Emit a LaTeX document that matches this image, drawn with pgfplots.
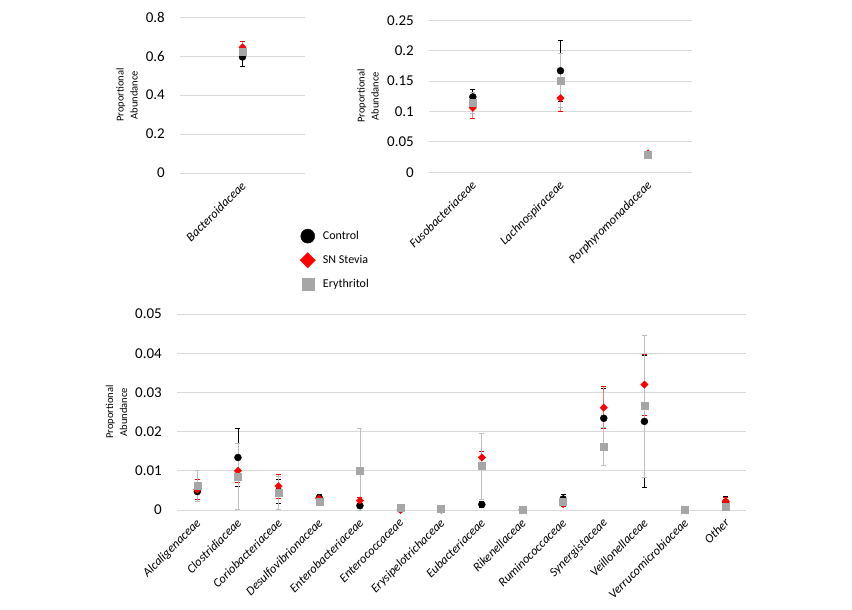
\documentclass[border=0pt]{standalone}
\usepackage{fontspec}
\setmainfont{Carlito}
\usepackage{pgfplots}
\pgfplotsset{compat=1.18}
\usepackage{pgfplotstable}

\definecolor{cred}{HTML}{FF0000}
\definecolor{cgray}{HTML}{A6A6A6}
\definecolor{ered}{HTML}{F47C7C}
\definecolor{egray}{HTML}{BFBFBF}
\definecolor{gridc}{HTML}{D9D9D9}

% ---- top-left panel ----
\pgfplotstableread{
x y ep em
0 0.595 0.050 0.050
}\tlC
\pgfplotstableread{
x y ep em
0 0.645 0.032 0.032
}\tlS
\pgfplotstableread{
x y ep em
0 0.620 0.022 0.022
}\tlE
% ---- top-right panel ----
\pgfplotstableread{
x y ep em
0 0.124 0.013 0.013
1 0.167 0.050 0.050
2 0.028 0.003 0.003
}\trC
\pgfplotstableread{
x y ep em
0 0.106 0.018 0.018
1 0.122 0.022 0.022
2 0.031 0.003 0.003
}\trS
\pgfplotstableread{
x y ep em
0 0.114 0.017 0.017
1 0.151 0.045 0.045
2 0.029 0.003 0.003
}\trE
% ---- bottom panel ----
\pgfplotstableread{
x y ep em
0 0.0047 0.0019 0.0019
1 0.0134 0.0075 0.0075
2 0.0048 0.0030 0.0030
3 0.0031 0.0008 0.0008
4 0.0011 0.0005 0.0005
5 0.0002 0.0001 0.0001
6 0.0001 0.0001 0.0001
7 0.0014 0.0008 0.0008
8 0.00005 0.00003 0.00003
9 0.0028 0.0013 0.0013
10 0.0234 0.0075 0.0075
11 0.0226 0.0168 0.0168
12 0.00003 0.00002 0.00002
13 0.0020 0.0016 0.0016
}\bC
\pgfplotstableread{
x y ep em
0 0.0052 0.0025 0.0025
1 0.0100 0.0030 0.0030
2 0.0061 0.0031 0.0031
3 0.0029 0.0005 0.0005
4 0.0024 0.0008 0.0008
5 0.0000 0.0002 0.0002
6 0.0001 0.0001 0.0001
7 0.0134 0.0016 0.0016
8 0.00003 0.00002 0.00002
9 0.0015 0.0006 0.0006
10 0.0261 0.0054 0.0054
11 0.0320 0.0078 0.0078
12 0.00003 0.00002 0.00002
13 0.0022 0.0009 0.0009
}\bS
\pgfplotstableread{
x y ep em
0 0.0061 0.0039 0.0039
1 0.0086 0.0085 0.0085
2 0.0043 0.0042 0.0042
3 0.0020 0.0005 0.0005
4 0.0100 0.0109 0.0100
5 0.0005 0.0002 0.0002
6 0.0003 0.0001 0.0001
7 0.0112 0.0083 0.0085
8 0.00005 0.00003 0.00003
9 0.0022 0.0007 0.0007
10 0.0162 0.0049 0.0049
11 0.0265 0.0181 0.0181
12 0.00003 0.00002 0.00002
13 0.0009 0.0004 0.0004
}\bE

\pgfplotsset{
  myaxis/.style={
    scale only axis,
    axis line style={draw=none},
    major tick length=0pt,
    ymajorgrids,
    major grid style={draw=gridc, line width=0.8bp},
    ymin=0,
    clip=false,
    scaled y ticks=false,
    /pgf/number format/.cd, fixed, precision=2, assume math mode=true, /pgfplots/.cd,
    yticklabel style={font=\fontsize{15bp}{18bp}\selectfont, inner sep=0pt, anchor=east, xshift=-15bp},
    xticklabel style={xshift=-2bp, yshift=-6bp, font=\fontsize{12.5bp}{14bp}\selectfont\itshape, rotate=45, anchor=north east, inner sep=1bp},
    legend image code/.code={\path (-7bp,0bp) (13bp,0bp); \draw[##1] plot coordinates {(0bp,0bp)};},
  },
  sC/.style={only marks, mark=*, mark size=3.5bp, color=black,
    legend image post style={mark size=7bp},
    error bars/.cd, y dir=both, y explicit,
    error bar style={black, line width=0.75bp},
    error mark options={rotate=90, mark size=2.5bp, black, line width=0.75bp}},
  sS/.style={only marks, mark=square*, mark size=2.6bp, color=cred, mark options={rotate=45},
    legend image post style={mark size=5.4bp},
    error bars/.cd, y dir=both, y explicit,
    error bar style={ered, line width=0.75bp},
    error mark options={rotate=90, mark size=2.5bp, cred, line width=0.75bp}},
  sE/.style={only marks, mark=square*, mark size=3.5bp, color=cgray,
    legend image post style={mark size=6bp},
    error bars/.cd, y dir=both, y explicit,
    error bar style={egray, line width=0.75bp},
    error mark options={rotate=90, mark size=2.5bp, egray, line width=0.75bp}},
}

\begin{document}
\begin{tikzpicture}
\path[use as bounding box] (0,0) rectangle (852bp,610bp);

% top-left
\begin{axis}[myaxis, at={(180bp,437bp)}, anchor=south west,
  width=125bp, height=156bp, xmin=-0.5, xmax=0.5, ymax=0.8,
  ytick={0,0.2,0.4,0.6,0.8}, xtick={0}, xticklabels={Bacteroidaceae}]
\addplot[sC] table[x=x, y=y, y error plus=ep, y error minus=em] {\tlC};
\addplot[sS] table[x=x, y=y, y error plus=ep, y error minus=em] {\tlS};
\addplot[sE] table[x=x, y=y, y error plus=ep, y error minus=em] {\tlE};
\end{axis}

% top-right
\begin{axis}[myaxis, at={(429bp,437.7bp)}, anchor=south west,
  width=263bp, height=152bp, xmin=-0.5, xmax=2.5, ymax=0.25,
  ytick={0,0.05,0.1,0.15,0.2,0.25}, xtick={0,1,2},
  xticklabels={Fusobacteriaceae, Lachnospiraceae, Porphyromonadaceae}]
\addplot[sC] table[x=x, y=y, y error plus=ep, y error minus=em] {\trC};
\addplot[sS] table[x=x, y=y, y error plus=ep, y error minus=em] {\trS};
\addplot[sE] table[x=x, y=y, y error plus=ep, y error minus=em] {\trE};
\end{axis}

% bottom
\begin{axis}[myaxis, at={(177bp,100bp)}, anchor=south west,
  width=569bp, height=196bp, xmin=-0.5, xmax=13.5, ymax=0.05,
  ytick={0,0.01,0.02,0.03,0.04,0.05}, xtick={0,...,13},
  xticklabels={Alcaligenaceae, Clostridiaceae, Coriobacteriaceae, Desulfovibrionaceae,
    Enterobacteriaceae, Enterococcaceae, Erysipelotrichaceae, Eubacteriaceae,
    Rikenellaceae, Ruminococcaceae, Synergistaceae, Veillonellaceae,
    Verrucomicrobiaceae, Other},
  legend style={at={(0.216,1.434)}, anchor=north west, draw=none, fill=none,
    font=\fontsize{12bp}{14bp}\selectfont, row sep=9.5bp,
    cells={anchor=west}, inner sep=0pt},
  ]
\addplot[sC] table[x=x, y=y, y error plus=ep, y error minus=em] {\bC};
\addplot[sS] table[x=x, y=y, y error plus=ep, y error minus=em] {\bS};
\addplot[sE] table[x=x, y=y, y error plus=ep, y error minus=em] {\bE};
\legend{Control, SN Stevia, Erythritol}
\end{axis}

\node[rotate=90, align=center, font=\fontsize{10.5bp}{14bp}\selectfont] at (127bp,515bp) {Proportional\\Abundance};
\node[rotate=90, align=center, font=\fontsize{10.5bp}{14bp}\selectfont] at (368bp,514bp) {Proportional\\Abundance};
\node[rotate=90, align=center, font=\fontsize{10.5bp}{14bp}\selectfont] at (116.5bp,198bp) {Proportional\\Abundance};
\end{tikzpicture}
\end{document}
